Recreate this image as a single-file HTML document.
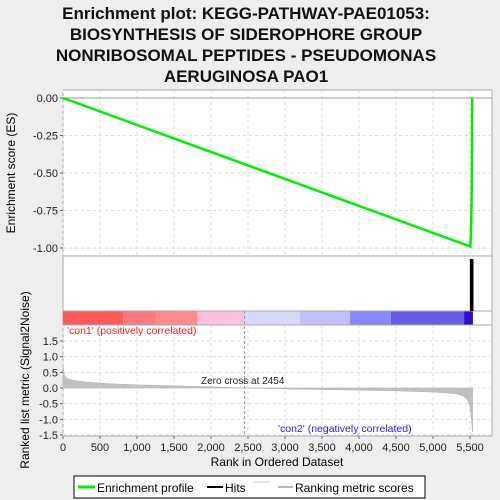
<!DOCTYPE html>
<html><head><meta charset="utf-8"><style>
body{margin:0;background:#eeeeee;}
svg{display:block;font-family:"Liberation Sans","DejaVu Sans",sans-serif;}
</style></head><body>
<svg id="chart" width="500" height="500" viewBox="0 0 500 500">
<rect x="0" y="0" width="500" height="500" fill="#eeeeee"/>
<g font-size="17" font-weight="bold" text-anchor="middle" fill="#111">
<text x="246" y="19">Enrichment plot: KEGG-PATHWAY-PAE01053:</text>
<text x="246" y="40">BIOSYNTHESIS OF SIDEROPHORE GROUP</text>
<text x="246" y="61">NONRIBOSOMAL PEPTIDES - PSEUDOMONAS</text>
<text x="246" y="82">AERUGINOSA PAO1</text>
</g>
<rect x="63" y="90" width="429" height="166" fill="#fff" stroke="#aaa"/>
<rect x="63" y="256" width="429" height="55" fill="#fff" stroke="#aaa"/>
<rect x="63" y="311" width="429" height="14" fill="#fff" stroke="#aaa"/>
<rect x="63" y="325" width="429" height="111" fill="#fff" stroke="#aaa"/>
<g id="grid"></g>
<g id="colorbar"></g>
<g id="metric"></g>
<g id="hits"></g>
<g id="es"></g>
<g id="axes" font-size="11" fill="#222"></g>
<text x="15" y="173" font-size="12" text-anchor="middle" transform="rotate(-90 15 173)">Enrichment score (ES)</text>
<text x="29" y="380" font-size="12" text-anchor="middle" transform="rotate(-90 29 380)">Ranked list metric (Signal2Noise)</text>
<text x="277" y="466" font-size="12" text-anchor="middle">Rank in Ordered Dataset</text>
<text x="67" y="334" font-size="10.5" fill="#ff2020">'con1' (positively correlated)</text>
<text x="278" y="432" font-size="10.5" fill="#2020ff">'con2' (negatively correlated)</text>
<text x="201" y="384" font-size="10" fill="#222">Zero cross at 2454</text>
<g>
<rect x="74" y="476" width="351" height="22" fill="#fff" stroke="#000"/>
<line x1="78" y1="487" x2="95" y2="487" stroke="#00ee00" stroke-width="3"/>
<text x="97" y="492" font-size="12">Enrichment profile</text>
<line x1="207" y1="487" x2="223" y2="487" stroke="#000" stroke-width="2"/>
<text x="225" y="492" font-size="12">Hits</text>
<line x1="254" y1="482" x2="270" y2="482" stroke="#ccc" stroke-width="1"/>
<line x1="278" y1="487" x2="293" y2="487" stroke="#bbb" stroke-width="2"/>
<text x="295" y="492" font-size="12">Ranking metric scores</text>
</g>
</svg>
<script>
const NS="http://www.w3.org/2000/svg";
const xTicks=[0,500,1000,1500,2000,2500,3000,3500,4000,4500,5000,5500];
const xTickLabels=["0","500","1,000","1,500","2,000","2,500","3,000","3,500","4,000","4,500","5,000","5,500"];
const esTicks=[0,-0.25,-0.5,-0.75,-1.0];
const esTickLabels=["0.00","-0.25","-0.50","-0.75","-1.00"];
const metricTicks=[1.5,1.0,0.5,0.0,-0.5,-1.0,-1.5];
const metricTickLabels=["1.5","1.0","0.5","0.0","-0.5","-1.0","-1.5"];
const esRanks=[0,5505,5515,5520,5525,5528,5530];
const esValues=[0,-0.99,-0.87,-0.72,-0.55,-0.3,0];
const hitRanks=[5515,5520,5525,5528,5530];
const metricRanks=[0,20,60,150,300,600,1000,1500,2000,2454,3000,3500,4000,4500,5000,5300,5400,5460,5500,5520,5535];
const metricValues=[0.72,0.4,0.3,0.24,0.19,0.14,0.1,0.07,0.04,0.0,-0.03,-0.05,-0.07,-0.09,-0.13,-0.18,-0.25,-0.35,-0.6,-1.0,-1.4];
const bandEdges=[0,810,1250,1820,2450,3200,3880,4430,5420,5500,5540];
const bandColors=["#ff5a5a","#ff7880","#ff8c8c","#ffc0e0","#d8d8fa","#c4c0fa","#8888f8","#6a5ae8","#2a10d0","#4010a0"];
const zeroCross=2454;
const X=r=>63+r*(407/5500);
const YES=v=>98+(-v)*(150);
const YM=v=>388-v*(47/1.5);
function mk(tag,attrs,parent){const e=document.createElementNS(NS,tag);for(const k in attrs)e.setAttribute(k,attrs[k]);document.getElementById(parent).appendChild(e);return e;}
xTicks.forEach(t=>{
 [[90,256],[325,436]].forEach(p=>{const l=mk('line',{x1:X(t),x2:X(t),y1:p[0],y2:p[1],stroke:'#ddd','stroke-dasharray':'3,3'},'grid');
 
 });
});
esTicks.forEach(t=>{const l=mk('line',{x1:63,x2:492,y1:YES(t),y2:YES(t),stroke:t===0?'#999':'#ddd','stroke-dasharray':t===0?'':'3,3'},'grid');
 
 });
metricTicks.forEach(t=>{const l=mk('line',{x1:63,x2:492,y1:YM(t),y2:YM(t),stroke:'#ddd','stroke-dasharray':'3,3'},'grid');
 
 });
bandColors.forEach((c,i)=>{const r=mk('rect',{x:X(bandEdges[i]),y:311.5,width:X(bandEdges[i+1])-X(bandEdges[i]),height:13,fill:c},'colorbar');
 
 });
let d='M'+X(metricRanks[0])+','+YM(0);
metricRanks.forEach((r,i)=>{d+=' L'+X(r)+','+YM(metricValues[i]);});
d+=' L'+X(metricRanks[metricRanks.length-1])+','+YM(0)+' Z';
const area=mk('path',{d:d,fill:'#c0c0c0',stroke:'#b0b0b0','stroke-width':0.5},'metric');


const zc=mk('line',{x1:X(zeroCross),x2:X(zeroCross),y1:311,y2:436,stroke:'#999','stroke-dasharray':'3,2'},'metric');


hitRanks.forEach(r=>{const l=mk('line',{x1:X(r),x2:X(r),y1:259,y2:311,stroke:'#000','stroke-width':2.5},'hits');
 
 });
const pts=esRanks.map((r,i)=>X(r)+','+YES(esValues[i])).join(' ');
const pl=mk('polyline',{points:pts,fill:'none',stroke:'#00ee00','stroke-width':2.5},'es');


esTicks.forEach((t,i)=>{const tx=mk('text',{x:58,y:YES(t)+4,'text-anchor':'end'},'axes');tx.textContent=esTickLabels[i];
 
 
 mk('line',{x1:60,x2:63,y1:YES(t),y2:YES(t),stroke:'#666'},'axes');});
metricTicks.forEach((t,i)=>{const tx=mk('text',{x:58,y:YM(t)+4,'text-anchor':'end'},'axes');tx.textContent=metricTickLabels[i];
 
 
 mk('line',{x1:60,x2:63,y1:YM(t),y2:YM(t),stroke:'#666'},'axes');});
xTicks.forEach((t,i)=>{const tx=mk('text',{x:X(t),y:451,'text-anchor':'middle'},'axes');tx.textContent=xTickLabels[i];
 
 
 mk('line',{x1:X(t),x2:X(t),y1:436,y2:439,stroke:'#666'},'axes');});
</script>
</body></html>
